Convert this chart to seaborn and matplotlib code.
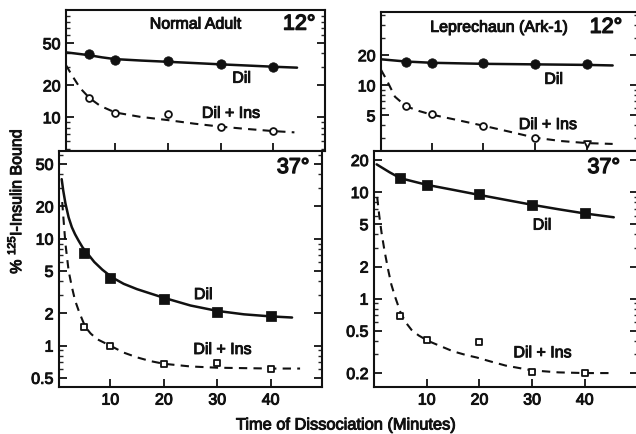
import matplotlib
matplotlib.use('Agg')
import matplotlib.pyplot as plt
import matplotlib.patheffects as pe
import seaborn as sns
from matplotlib.ticker import LogLocator, NullFormatter, FixedLocator

# sampling times (minutes)
times = [5, 10, 20, 30, 40]

# Normal adult, 12 deg
na12_dil = [39.2, 34.8, 34.0, 31.9, 30.0]
na12_ins = [15.1, 11.0, 10.7, 8.15, 7.4]
na12_dil_curve_x = [0.7, 2.5, 5, 7.5, 10, 15, 20, 25, 30, 35, 40, 44.5]
na12_dil_curve_y = [41, 40, 38.6, 36.8, 35.4, 34.3, 33.4, 32.5, 31.6, 30.8, 30.0, 29.4]
na12_ins_curve_x = [0.7, 1.8, 3.4, 5.2, 7.2, 10, 14.7, 20, 25, 30, 35, 40, 44]
na12_ins_curve_y = [31, 25, 18.8, 15.1, 12.8, 11.1, 10.1, 9.4, 8.7, 8.15, 7.75, 7.4, 7.2]

# Normal adult, 37 deg
na37_dil = [7.4, 4.3, 2.7, 2.05, 1.88]
na37_ins = [1.49, 1.0, 0.67, 0.685, 0.60]
na37_dil_curve_x = [0.9, 1.2, 1.6, 2.2, 2.8, 3.4, 4.05, 4.8, 5.6, 7, 8.5, 10.3,
                    12.5, 15, 17.5, 20, 25, 30, 35, 40, 44]
na37_dil_curve_y = [36, 28, 21.4, 15.8, 12.8, 11.0, 9.6, 8.3, 7.4, 6.05, 5.13, 4.35,
                    3.78, 3.37, 3.07, 2.8, 2.37, 2.11, 1.96, 1.875, 1.83]
na37_ins_curve_x = [1.0, 1.3, 1.6, 2.2, 2.8, 3.4, 4.2, 5.3, 6.3, 7.5, 10.3,
                    12.5, 15, 17.5, 20, 25, 30, 40, 45.5]
na37_ins_curve_y = [22, 14, 9, 5.0, 3.55, 2.65, 2.04, 1.5, 1.3, 1.15, 0.98,
                    0.86, 0.776, 0.716, 0.676, 0.638, 0.621, 0.61, 0.61]

# Leprechaun (Ark-1), 12 deg
lp12_dil = [17.1, 16.9, 16.6, 16.5, 16.4]
lp12_ins = [6.2, 5.15, 3.96, 3.0, 2.6]
lp12_dil_curve_x = [0.2, 5, 10, 20, 30, 40, 45]
lp12_dil_curve_y = [18.2, 17.3, 16.8, 16.4, 16.2, 16.0, 15.8]
lp12_ins_curve_x = [0.2, 1.3, 2.9, 5, 7.5, 10, 15, 20, 25, 30, 35, 40, 45]
lp12_ins_curve_y = [14.3, 11.3, 7.7, 6.2, 5.55, 5.1, 4.5, 3.95, 3.45, 3.0, 2.78, 2.65, 2.6]

# Leprechaun (Ark-1), 37 deg
lp37_dil = [13.5, 11.6, 9.5, 7.55, 6.3]
lp37_ins = [0.69, 0.41, 0.39, 0.203, 0.199]
lp37_dil_curve_x = [0.5, 3, 5, 10, 15, 20, 25, 30, 35, 40, 45.5]
lp37_dil_curve_y = [18.2, 15.3, 13.5, 11.7, 10.5, 9.4, 8.45, 7.6, 6.9, 6.3, 5.8]
lp37_ins_curve_x = [0.6, 1.0, 1.45, 2.0, 2.7, 3.3, 4.0, 5, 6, 7.1, 8.5, 10.3, 12.5,
                    15, 17.5, 19.5, 22, 25, 30, 35, 40, 45.4]
lp37_ins_curve_y = [9, 6.0, 4.1, 2.8, 1.85, 1.35, 1.04, 0.75, 0.6, 0.51, 0.45, 0.40,
                    0.36, 0.32, 0.295, 0.28, 0.258, 0.235, 0.212, 0.203, 0.2, 0.2]

x_ticks = [10, 20, 30, 40]

sns.set_style('ticks')
plt.rcParams['font.family'] = ['Liberation Sans', 'DejaVu Sans']
plt.rcParams['mathtext.fontset'] = 'custom'
plt.rcParams['mathtext.rm'] = 'Liberation Sans'

INK = '#111111'
heavy = [pe.withStroke(linewidth=0.7, foreground=INK)]

W, H = 636, 434
fig = plt.figure(figsize=(W / 100, H / 100), dpi=100)


def box(l, r, t, b):
    return [l / W, 1 - b / H, (r - l) / W, (b - t) / H]


def setup(ax, xlim, ylim, yticks, ylabels, show_x):
    ax.set_yscale('log')
    ax.set_xlim(*xlim)
    ax.set_ylim(*ylim)
    ax.yaxis.set_major_locator(FixedLocator(yticks))
    ax.set_yticklabels(ylabels)
    ax.yaxis.set_minor_locator(LogLocator(base=10, subs=range(2, 10)))
    ax.yaxis.set_minor_formatter(NullFormatter())
    ax.set_xticks(x_ticks)
    ax.set_xticklabels([str(t) for t in x_ticks] if show_x else [])
    ax.tick_params(axis='both', which='major', direction='in', length=6, width=1.3,
                   labelsize=11.5, colors=INK, pad=4)
    ax.tick_params(axis='y', which='both', right=True, direction='in')
    ax.tick_params(axis='y', which='minor', length=3, width=1.0)
    ax.tick_params(axis='x', which='minor', bottom=False, top=False)
    for lab in ax.get_xticklabels() + ax.get_yticklabels():
        lab.set_path_effects(heavy)
    for s in ax.spines.values():
        s.set_linewidth(1.5)
        s.set_color(INK)
    ax.set_xlabel('')
    ax.set_ylabel('')


def draw(ax, cx1, cy1, cx2, cy2, y1, y2, m1, m2, last2=None):
    sns.lineplot(x=cx1, y=cy1, ax=ax, color=INK, lw=1.8)
    sns.lineplot(x=cx2, y=cy2, ax=ax, color=INK, lw=1.5, linestyle=(0, (4, 3)))
    sns.scatterplot(x=times, y=y1, ax=ax, marker=m1, s=46, color=INK,
                    edgecolor=INK, zorder=5)
    mk2 = [m2] * len(times)
    if last2 is not None:
        mk2[-1] = last2
    for xv, yv, mk in zip(times, y2, mk2):
        sns.scatterplot(x=[xv], y=[yv], ax=ax, marker=mk, s=24, color='white',
                        edgecolor=INK, linewidth=1.3, zorder=5)


def label(ax, x, y, s, **kw):
    t = ax.text(x, y, s, fontsize=11.5, color=INK, ha='center', va='center', **kw)
    t.set_path_effects(heavy)


def temp(ax, x, y, s):
    t = ax.text(x, y, s, transform=ax.transAxes, fontsize=15.5, color=INK,
                ha='center', va='center')
    t.set_path_effects([pe.withStroke(linewidth=1.0, foreground=INK)])


# Normal adult 12
ax1 = fig.add_axes(box(66, 325, 10, 151))
draw(ax1, na12_dil_curve_x, na12_dil_curve_y, na12_ins_curve_x, na12_ins_curve_y,
     na12_dil, na12_ins, 'o', 'o')
setup(ax1, (0.7, 49.8), (4.8, 103), [10, 20, 50], ['10', '20', '50'], False)
label(ax1, 0.5, 0.9, 'Normal Adult', transform=ax1.transAxes)
temp(ax1, 0.9, 0.9, '12°')
label(ax1, 34, 23.4, 'Dil')
label(ax1, 32, 10.9, 'Dil + Ins')

# Normal adult 37
ax2 = fig.add_axes(box(59, 322, 151, 387))
draw(ax2, na37_dil_curve_x, na37_dil_curve_y, na37_ins_curve_x, na37_ins_curve_y,
     na37_dil, na37_ins, 's', 's')
setup(ax2, (0.4, 49.6), (0.41, 66), [0.5, 1, 2, 5, 10, 20, 50],
      ['0.5', '1', '2', '5', '10', '20', '50'], True)
temp(ax2, 0.89, 0.93, '37°')
label(ax2, 27.4, 3.0, 'Dil')
label(ax2, 31, 0.92, 'Dil + Ins')

# Leprechaun 12
ax3 = fig.add_axes(box(381, 638, 12, 151))
draw(ax3, lp12_dil_curve_x, lp12_dil_curve_y, lp12_ins_curve_x, lp12_ins_curve_y,
     lp12_dil, lp12_ins, 'o', 'o', last2='v')
setup(ax3, (0.2, 49.9), (2.21, 54), [5, 10, 20], ['5', '10', '20'], False)
label(ax3, 0.46, 0.89, 'Leprechaun (Ark-1)', transform=ax3.transAxes)
temp(ax3, 0.875, 0.89, '12°')
label(ax3, 33.6, 11.5, 'Dil')
label(ax3, 32.5, 4.06, 'Dil + Ins')

# Leprechaun 37
ax4 = fig.add_axes(box(374, 638, 151, 387))
draw(ax4, lp37_dil_curve_x, lp37_dil_curve_y, lp37_ins_curve_x, lp37_ins_curve_y,
     lp37_dil, lp37_ins, 's', 's')
setup(ax4, (0.0, 50.1), (0.148, 24.3), [0.2, 0.5, 1, 2, 5, 10, 20],
      ['0.2', '0.5', '1', '2', '5', '10', '20'], True)
temp(ax4, 0.87, 0.93, '37°')
label(ax4, 31.9, 4.9, 'Dil')
label(ax4, 32, 0.31, 'Dil + Ins')

xl = fig.text(346 / W, 1 - 425 / H, 'Time of Dissociation (Minutes)', fontsize=11.8,
              color=INK, ha='center', va='center')
xl.set_path_effects(heavy)
yl = fig.text(15 / W, 1 - 201 / H, r'% $^{125}$I-Insulin Bound', fontsize=11.5,
              color=INK, ha='center', va='center', rotation=90)
yl.set_path_effects(heavy)

fig.savefig('out.png', dpi=100, facecolor='white')
